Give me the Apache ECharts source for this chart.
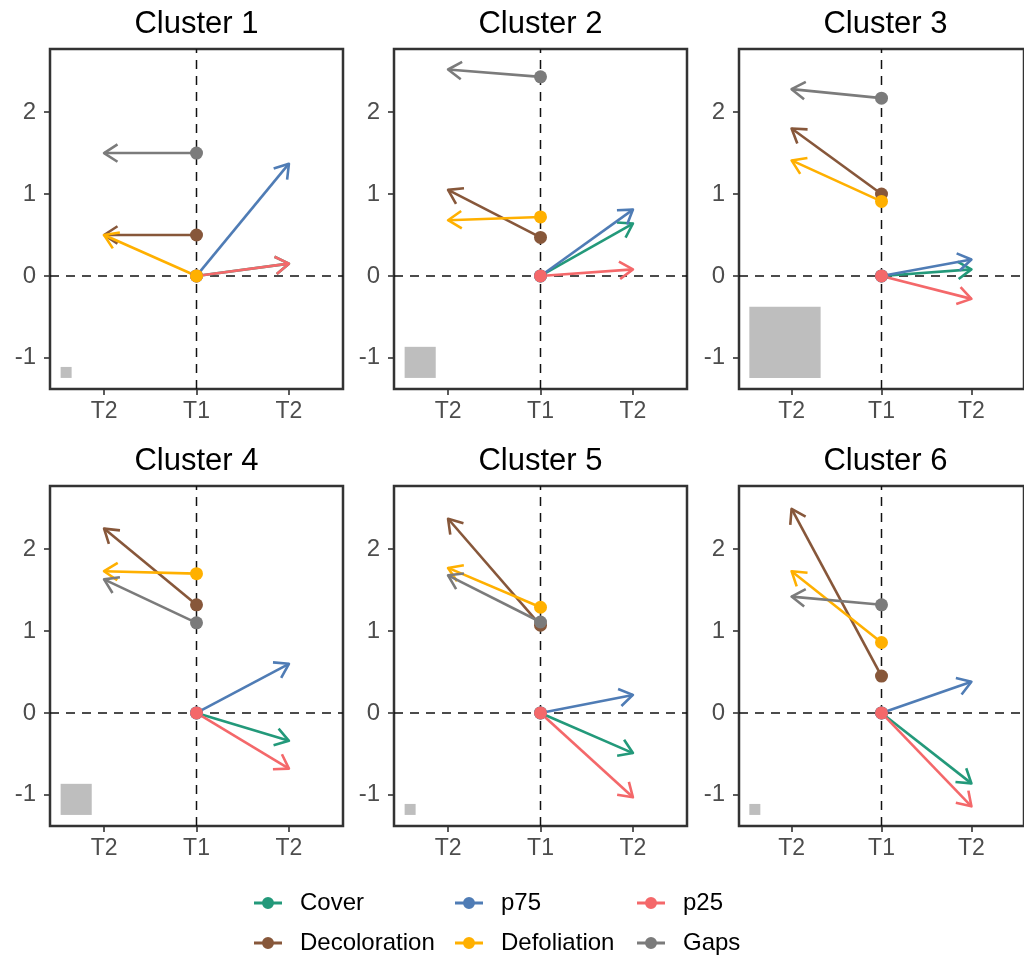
<!DOCTYPE html>
<html>
<head>
<meta charset="utf-8">
<script src="https://cdn.jsdelivr.net/npm/echarts@6/dist/echarts.min.js"></script>
<style>html,body{margin:0;padding:0;background:#fff}#c{width:1024px;height:962px}</style>
</head>
<body>
<div id="c"></div>
<script>
// ---- data ----
const clusters = ['Cluster 1', 'Cluster 2', 'Cluster 3', 'Cluster 4', 'Cluster 5', 'Cluster 6'];
const variables = ['Cover', 'p75', 'p25', 'Decoloration', 'Defoliation', 'Gaps'];
// +1: T2 drawn to the right, -1: T2 drawn to the left
const variableSide = [1, 1, 1, -1, -1, -1];
const xTickValues = [-1, 0, 1];
const xTickLabels = ['T2', 'T1', 'T2'];
const yTickValues = [-1, 0, 1, 2];

const t1Cover = [0, 0, 0, 0, 0, 0];
const t2Cover = [0.15, 0.64, 0.08, -0.34, -0.49, -0.86];
const t1P75 = [0, 0, 0, 0, 0, 0];
const t2P75 = [1.37, 0.81, 0.20, 0.60, 0.22, 0.38];
const t1P25 = [0, 0, 0, 0, 0, 0];
const t2P25 = [0.15, 0.08, -0.28, -0.68, -1.03, -1.14];
const t1Decoloration = [0.50, 0.47, 1.00, 1.32, 1.07, 0.45];
const t2Decoloration = [0.50, 1.05, 1.80, 2.25, 2.37, 2.49];
const t1Defoliation = [0.00, 0.72, 0.91, 1.70, 1.29, 0.86];
const t2Defoliation = [0.50, 0.68, 1.41, 1.73, 1.77, 1.73];
const t1Gaps = [1.50, 2.43, 2.17, 1.10, 1.11, 1.32];
const t2Gaps = [1.50, 2.52, 2.28, 1.63, 1.68, 1.42];
// relative cluster size (area of the grey square)
const clusterSize = [1, 8, 42, 8, 1, 1];

// ---- styles / layout ----
const varColors = ['#23997a', '#4f7cb5', '#f4686a', '#87573a', '#ffb000', '#7b7b7b'];
const FONT = '"Liberation Sans", Arial, Helvetica, sans-serif';
const gridLefts = [50, 394, 739];
const gridTops = [49, 486];
const GW = 293, GH = 340;
const X_MIN = -1.585, X_MAX = 1.585, Y_MIN = -1.38, Y_MAX = 2.77;
const legendLefts = [254, 455, 637];
const legendRowsY = [903, 943];

const t1Data = [t1Cover, t1P75, t1P25, t1Decoloration, t1Defoliation, t1Gaps];
const t2Data = [t2Cover, t2P75, t2P25, t2Decoloration, t2Defoliation, t2Gaps];

const chart = echarts.init(document.getElementById('c'), null, {renderer: 'canvas'});

const grids = [], xAxes = [], yAxes = [], titles = [], series = [], legends = [];

function renderRefs(params, api) {
  const cs = params.coordSys;
  const o = api.coord([0, 0]);
  const dash = [9, 7];
  const anchor = api.coord([-1.47, -1.245]);
  const side = 11 * Math.sqrt(api.value(0));
  return {
    type: 'group',
    children: [
      {type: 'rect', z2: 0, shape: {x: anchor[0], y: anchor[1] - side, width: side, height: side},
        style: {fill: '#bebebe'}},
      {type: 'line', z2: 0, shape: {x1: cs.x, y1: o[1], x2: cs.x + cs.width, y2: o[1]},
        style: {stroke: '#111111', lineWidth: 1.5, lineDash: dash}},
      {type: 'line', z2: 0, shape: {x1: o[0], y1: cs.y + cs.height, x2: o[0], y2: cs.y},
        style: {stroke: '#111111', lineWidth: 1.5, lineDash: dash}}
    ]
  };
}

function renderArrow(params, api) {
  const p0 = api.coord([api.value(0), api.value(1)]);
  const p1 = api.coord([api.value(2), api.value(3)]);
  const color = api.visual('color');
  const ang = Math.atan2(p1[1] - p0[1], p1[0] - p0[0]);
  const L = 16, a = Math.PI / 6 * 1.1;
  const w1 = [p1[0] - L * Math.cos(ang - a), p1[1] - L * Math.sin(ang - a)];
  const w2 = [p1[0] - L * Math.cos(ang + a), p1[1] - L * Math.sin(ang + a)];
  return {
    type: 'group',
    children: [
      {type: 'line', z2: 2, shape: {x1: p0[0], y1: p0[1], x2: p1[0], y2: p1[1]},
        style: {stroke: color, lineWidth: 2.6}},
      {type: 'polyline', z2: 2, shape: {points: [w1, p1, w2]},
        style: {stroke: color, lineWidth: 2.6, fill: null, lineJoin: 'round'}},
      {type: 'circle', z2: 10, shape: {cx: p0[0], cy: p0[1], r: 6.5}, style: {fill: color}}
    ]
  };
}

clusters.forEach((name, i) => {
  const col = i % 3, row = Math.floor(i / 3);
  grids.push({left: gridLefts[col], top: gridTops[row], width: GW, height: GH,
    show: true, borderColor: '#333333', borderWidth: 2.5, backgroundColor: 'transparent'});
  xAxes.push({
    gridIndex: i, type: 'value', min: X_MIN, max: X_MAX, position: 'bottom',
    axisLine: {show: false, onZero: false}, splitLine: {show: false},
    axisTick: {show: true, length: 6, customValues: xTickValues, lineStyle: {color: '#333333', width: 1.6}},
    axisLabel: {customValues: xTickValues, margin: 11, fontSize: 23, color: '#4d4d4d', fontFamily: FONT,
      formatter: v => xTickLabels[xTickValues.indexOf(Math.round(v))]}
  });
  yAxes.push({
    gridIndex: i, type: 'value', min: Y_MIN, max: Y_MAX, position: 'left',
    axisLine: {show: false, onZero: false}, splitLine: {show: false},
    axisTick: {show: true, length: 6, customValues: yTickValues, lineStyle: {color: '#333333', width: 1.6}},
    axisLabel: {customValues: yTickValues, margin: 14, fontSize: 24, color: '#4d4d4d', fontFamily: FONT,
      formatter: v => String(Math.round(v))}
  });
  titles.push({text: name, left: gridLefts[col] + GW / 2, top: gridTops[row] - 40, textAlign: 'center',
    padding: 0, textStyle: {fontSize: 31, fontWeight: 'normal', color: '#000', fontFamily: FONT, lineHeight: 31}});
  series.push({type: 'custom', xAxisIndex: i, yAxisIndex: i, silent: true, clip: false,
    renderItem: renderRefs, data: [[clusterSize[i]]]});
  variables.forEach((v, k) => {
    series.push({
      type: 'custom', name: v, xAxisIndex: i, yAxisIndex: i, silent: true,
      itemStyle: {color: varColors[k]},
      renderItem: renderArrow,
      data: [[0, t1Data[k][i], variableSide[k], t2Data[k][i]]]
    });
  });
});

const iconPath = 'path://M0,5.8 L28,5.8 L28,8.6 L0,8.6 Z M8,7.2 A6,6 0 1 1 20,7.2 A6,6 0 1 1 8,7.2 Z';
variables.forEach((v, k) => {
  const col = k % 3, row = Math.floor(k / 3);
  legends.push({
    left: legendLefts[col], top: legendRowsY[row] - 12, padding: 0, selectedMode: false,
    itemWidth: 28, itemHeight: 12,
    data: [{name: v, icon: iconPath}],
    textStyle: {fontSize: 24, color: '#000', fontFamily: FONT, padding: [0, 0, 0, 13], lineHeight: 24}
  });
});

chart.setOption({
  animation: false,
  backgroundColor: '#ffffff',
  title: titles,
  grid: grids,
  xAxis: xAxes,
  yAxis: yAxes,
  legend: legends,
  series: series
});
</script>
</body>
</html>
